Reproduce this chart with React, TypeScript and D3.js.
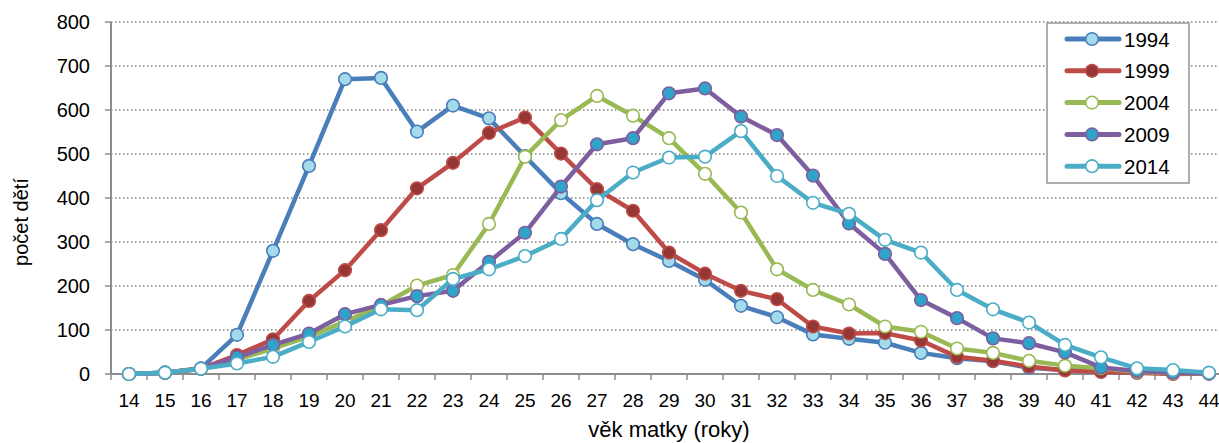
import React from "react";
import { scaleBand, scaleLinear, line } from "d3";

const width = 1219;
const height = 443;
const margin = { top: 22, left: 111, bottom: 69 };
const plotRight = 1227;

const ages = [
  14, 15, 16, 17, 18, 19, 20, 21, 22, 23, 24, 25, 26, 27, 28, 29, 30, 31, 32,
  33, 34, 35, 36, 37, 38, 39, 40, 41, 42, 43, 44,
];
const yTicks = [0, 100, 200, 300, 400, 500, 600, 700, 800];

const v1994 = [
  0, 3, 13, 89, 280, 473, 670, 673, 551, 610, 581, 495, 411, 341, 295, 257,
  214, 155, 129, 90, 80, 71, 48, 36, 29, 14, 9, 5, 3, 2, 1,
];
const v1999 = [
  0, 3, 12, 43, 79, 166, 236, 327, 422, 480, 548, 583, 501, 420, 371, 276, 228,
  189, 170, 108, 92, 93, 76, 39, 30, 17, 8, 5, 3, 0, 1,
];
const v2004 = [
  0, 3, 12, 33, 58, 85, 119, 155, 201, 225, 341, 494, 577, 632, 587, 536, 455,
  367, 238, 191, 158, 108, 96, 58, 48, 30, 19, 13, 5, 2, 1,
];
const v2009 = [
  0, 3, 12, 38, 66, 92, 136, 157, 177, 189, 255, 321, 426, 522, 536, 638, 649,
  585, 543, 451, 342, 273, 168, 127, 81, 70, 49, 15, 7, 3, 1,
];
const v2014 = [
  0, 3, 12, 24, 39, 73, 108, 147, 145, 216, 238, 268, 307, 395, 458, 492, 494,
  552, 450, 389, 364, 305, 276, 191, 147, 117, 66, 38, 13, 9, 3,
];

const series = [
  { name: "1994", values: v1994, stroke: "#4a7ebb", fill: "#a3dbea" },
  { name: "1999", values: v1999, stroke: "#be4b48", fill: "#953735" },
  { name: "2004", values: v2004, stroke: "#98b954", fill: "#ffffff" },
  { name: "2009", values: v2009, stroke: "#7d5fa0", fill: "#2fa3c8" },
  { name: "2014", values: v2014, stroke: "#4bacc6", fill: "#ffffff" },
];

const font = "'Liberation Sans', Arial, sans-serif";

export default function App() {
  const x = scaleBand<number>().domain(ages).range([margin.left, plotRight]);
  const y = scaleLinear()
    .domain([0, 800])
    .range([height - margin.bottom, margin.top]);
  const bw = x.bandwidth();
  const cx = (a: number) => (x(a) as number) + bw / 2;

  const path = line<number>()
    .x((_, i) => cx(ages[i]))
    .y((d) => y(d));

  return (
    <svg
      width={width}
      height={height}
      style={{ position: "absolute", left: 0, top: 0, fontFamily: font }}
    >
      <rect width={width} height={height} fill="#fff" />
      {/* gridlines */}
      {yTicks.slice(1).map((t) => (
        <line
          key={t}
          x1={margin.left}
          x2={width}
          y1={y(t)}
          y2={y(t)}
          stroke="#808080"
          strokeWidth={1.4}
          strokeDasharray="1.5,2.5"
        />
      ))}
      {/* y axis */}
      <line
        x1={margin.left}
        x2={margin.left}
        y1={y(800)}
        y2={y(0)}
        stroke="#8c8c8c"
        strokeWidth={2}
      />
      {yTicks.map((t) => (
        <g key={t}>
          <line
            x1={margin.left - 6}
            x2={margin.left}
            y1={y(t)}
            y2={y(t)}
            stroke="#8c8c8c"
            strokeWidth={1.5}
          />
          <text x={90} y={y(t) + 7} textAnchor="end" fontSize={20} fill="#000">
            {t}
          </text>
        </g>
      ))}
      {/* x axis */}
      <line
        x1={margin.left}
        x2={width}
        y1={y(0)}
        y2={y(0)}
        stroke="#8c8c8c"
        strokeWidth={2}
      />
      {ages.map((a) => (
        <g key={a}>
          <line
            x1={x(a) as number}
            x2={x(a) as number}
            y1={y(0)}
            y2={y(0) + 6}
            stroke="#8c8c8c"
            strokeWidth={1.5}
          />
          <text x={cx(a)} y={407} textAnchor="middle" fontSize={19} fill="#000">
            {a}
          </text>
        </g>
      ))}
      <text
        x={(margin.left + plotRight) / 2}
        y={437}
        textAnchor="middle"
        fontSize={22}
      >
        věk matky (roky)
      </text>
      <text
        transform={`translate(28, 222) rotate(-90)`}
        textAnchor="middle"
        fontSize={20}
      >
        počet dětí
      </text>
      {/* series */}
      {series.map((s) => (
        <g key={s.name}>
          <path
            d={path(s.values) || ""}
            fill="none"
            stroke={s.stroke}
            strokeWidth={4.5}
            strokeLinejoin="round"
            strokeLinecap="round"
          />
          {s.values.map((v, i) => (
            <circle
              key={i}
              cx={cx(ages[i])}
              cy={y(v)}
              r={6.3}
              fill={s.fill}
              stroke={s.stroke}
              strokeWidth={1.6}
            />
          ))}
        </g>
      ))}
      {/* legend */}
      <g>
        <rect
          x={1047}
          y={23}
          width={142}
          height={160}
          fill="#fff"
          stroke="#a6a6a6"
          strokeWidth={1.8}
        />
        {series.map((s, i) => {
          const ly = 39 + i * 31.8;
          return (
            <g key={s.name}>
              <line
                x1={1067}
                x2={1119}
                y1={ly}
                y2={ly}
                stroke={s.stroke}
                strokeWidth={5}
                strokeLinecap="round"
              />
              <circle
                cx={1092}
                cy={ly}
                r={6.3}
                fill={s.fill}
                stroke={s.stroke}
                strokeWidth={1.6}
              />
              <text x={1124} y={ly + 7.5} fontSize={20.5} fill="#000">
                {s.name}
              </text>
            </g>
          );
        })}
      </g>
    </svg>
  );
}
